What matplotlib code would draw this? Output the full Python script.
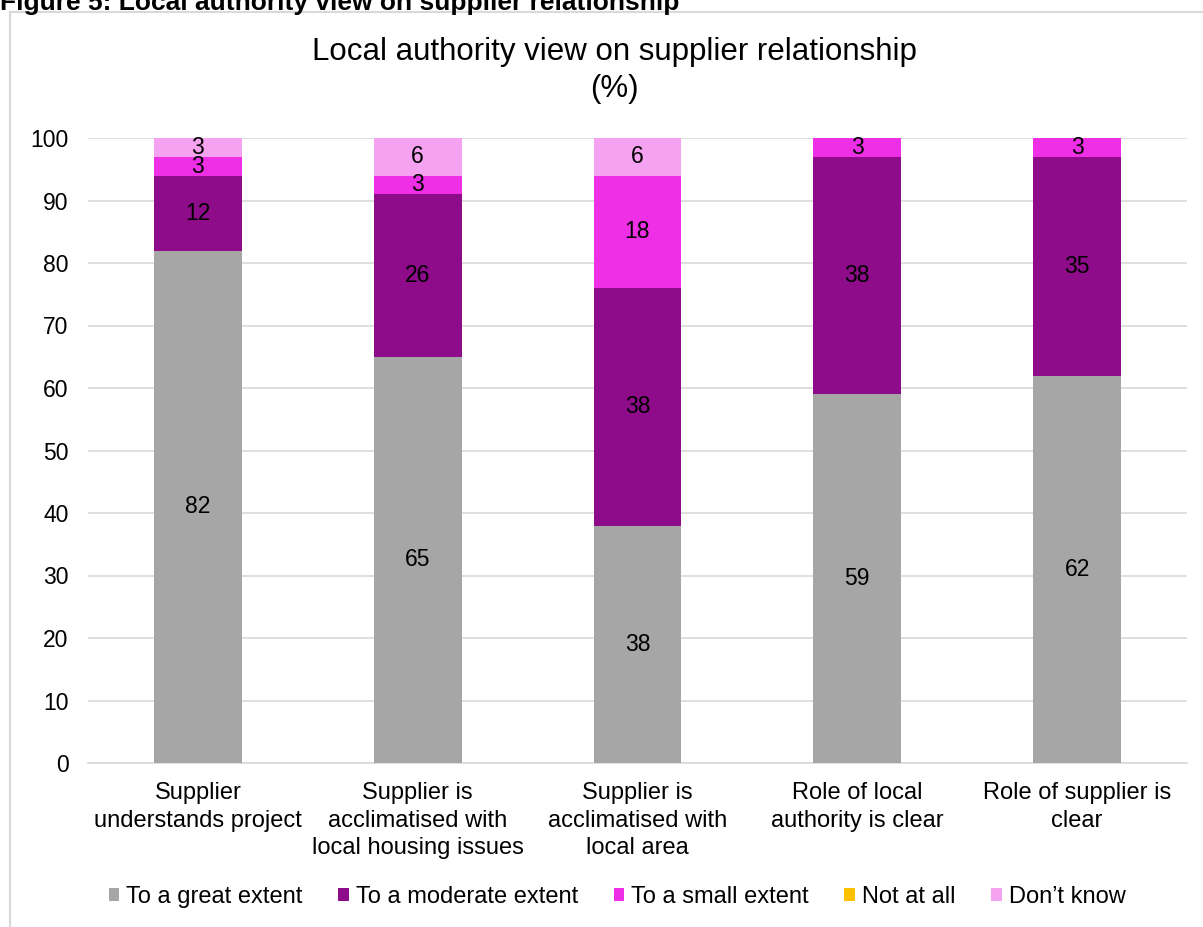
import matplotlib
matplotlib.use("Agg")
import matplotlib.pyplot as plt
from matplotlib.patches import Rectangle
import numpy as np

plt.rcParams['font.family'] = ['Liberation Sans', 'DejaVu Sans']

categories = ["Supplier\nunderstands project",
              "Supplier is\nacclimatised with\nlocal housing issues",
              "Supplier is\nacclimatised with\nlocal area",
              "Role of local\nauthority is clear",
              "Role of supplier is\nclear"]
series_names = ["To a great extent", "To a moderate extent", "To a small extent",
                "Not at all", "Don\u2019t know"]
great = [82, 65, 38, 59, 62]
moderate = [12, 26, 38, 38, 35]
small = [3, 3, 18, 3, 3]
not_at_all = [0, 0, 0, 0, 0]
dont_know = [3, 6, 6, 0, 0]
colors = ["#A6A6A6", "#8E0C8A", "#EE2FE6", "#FFC000", "#F5A3F0"]

W, H = 1203, 927
fig = plt.figure(figsize=(W/100, H/100), dpi=100)

# outer border of chart frame
fig.patches.append(Rectangle((10/W, -0.01), 1.1, (H-12)/H + 0.01, transform=fig.transFigure,
                             fill=False, edgecolor="#D9D9D9", linewidth=1.5))
fig.text(0/W, 1 - 3/H, "Figure 5: Local authority view on supplier relationship",
         fontsize=19, fontweight="bold", ha="left", va="center")

ax = fig.add_axes([88/W, 1 - 763/H, (1187-88)/W, (763-138)/H])
x = np.arange(len(categories))
bottom = np.zeros(len(categories))
for name, vals, c in zip(series_names, [great, moderate, small, not_at_all, dont_know], colors):
    vals = np.array(vals, dtype=float)
    ax.bar(x, vals, 0.4, bottom=bottom, color=c, label=name, zorder=3)
    for xi, v, b in zip(x, vals, bottom):
        if v > 0:
            ax.text(xi, b + v/2, f"{int(v)}", ha="center", va="center", fontsize=16.5, zorder=4)
    bottom += vals

ax.set_xlim(-0.5, len(categories) - 0.5)
ax.set_ylim(0, 100)
ax.set_yticks(range(0, 101, 10))
ax.grid(axis="y", color="#D9D9D9", linewidth=1.2, zorder=0)
for s in ["top", "right", "left"]:
    ax.spines[s].set_visible(False)
ax.spines["bottom"].set_color("#D9D9D9")
ax.spines["bottom"].set_linewidth(1.2)
ax.tick_params(axis="y", length=0, labelsize=16.5, pad=14)
ax.tick_params(axis="x", length=0, labelsize=17, pad=14)
ax.set_xticks(x)
ax.set_xticklabels(categories, linespacing=1.3)

fig.text(614/W, 1 - 52/H, "Local authority view on supplier relationship",
         fontsize=22.5, ha="center", va="center")
fig.text(614/W, 1 - 89/H, "(%)", fontsize=22.5, ha="center", va="center")

fig.legend(loc="center", bbox_to_anchor=(617/W, 1 - 897/H), ncol=5, frameon=False,
           fontsize=17, handlelength=0.45, handleheight=0.45, handletextpad=0.3,
           columnspacing=1.5)

fig.savefig("out.png", dpi=100)
